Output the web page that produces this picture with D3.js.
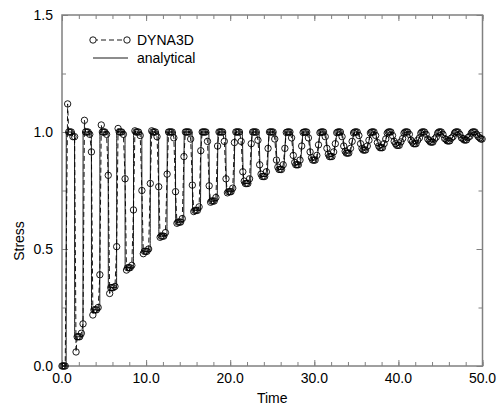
<!DOCTYPE html>
<html>
<head>
<meta charset="utf-8">
<script src="https://cdn.jsdelivr.net/npm/d3@7"></script>
<style>
  body { margin: 0; background: #fff; }
  text { font-family: "Liberation Sans", Arial, sans-serif; }
</style>
</head>
<body>
<svg id="chart" width="501" height="410"></svg>
<script>
// rise time of each loading cycle (stress goes back up to 1.0)
const cycleRise = [0.5, 2.5, 4.5, 6.5, 8.5, 10.5, 12.5, 14.5, 16.5, 18.5, 20.5, 22.5, 24.5,
  26.5, 28.5, 30.5, 32.5, 34.5, 36.5, 38.5, 40.5, 42.5, 44.5, 46.5, 48.5];
// low stress reached after each drop
const cycleLow = [0.125, 0.24, 0.335, 0.42, 0.49, 0.555, 0.615, 0.665, 0.705, 0.745, 0.78, 0.81,
  0.84, 0.86, 0.88, 0.895, 0.91, 0.923, 0.933, 0.943, 0.95, 0.957, 0.962, 0.966, 0.97];
// width of the rise / drop edges of the analytical curve
const edgeWidth = [0.02, 0.02, 0.02, 0.02, 0.03, 0.04, 0.05, 0.07, 0.09, 0.12, 0.16, 0.2, 0.26,
  0.32, 0.4, 0.48, 0.56, 0.64, 0.72, 0.8, 0.85, 0.9, 0.92, 0.95, 0.95];

// DYNA3D samples per cycle
const dynaStart = [[0.0, 0.0], [0.12, 0.0], [0.25, 0.0], [0.38, 0.0]];
const dynaRiseMid = [0.0, 0.18, 0.39, 0.51, 0.667, 0.78, 0.82, 0.895, 0.92, 0.94, 0.955, 0.95, 0.93,
  0.93, 0.94, 0.945, 0.95, 0.96, 0.965, 0.97, 0.972, 0.975, 0.978, 0.98, 0.982];
const dynaPeak = [1.12, 1.05, 1.03, 1.015, 1.005, 1.005, 1.0, 1.0, 1.0, 1.0, 1.0, 1.0, 1.0,
  0.998, 0.998, 0.997, 0.997, 0.996, 0.996, 0.995, 0.995, 0.995, 0.995, 0.995, 0.995];
const dynaHigh = [1.0, 1.0, 1.0, 1.0, 1.0, 1.0, 1.0, 1.0, 1.0, 1.0, 1.0, 1.0, 1.0,
  1.0, 1.0, 1.0, 1.0, 1.0, 1.0, 1.0, 1.0, 1.0, 1.0, 1.0, 1.0];
const dynaHighEnd = [0.98, 0.99, 0.99, 0.99, 0.985, 0.98, 0.975, 0.97, 0.96, 0.96, 0.96, 0.965, 0.97,
  0.975, 0.975, 0.98, 0.98, 0.985, 0.985, 0.985, 0.99, 0.99, 0.99, 0.99, 0.99];
const dynaDropMid = [0.98, 0.915, 0.815, 0.80, 0.75, 0.766, 0.745, 0.773, 0.77, 0.80, 0.83, 0.86, 0.88,
  0.9, 0.915, 0.93, 0.94, 0.95, 0.955, 0.96, 0.965, 0.97, 0.972, 0.975, 0.98];
const dynaUnder = [0.06, 0.218, 0.31, 0.41, 0.48, 0.55, 0.61, 0.66, 0.70, 0.74, 0.79, 0.82, 0.85,
  0.87, 0.89, 0.905, 0.918, 0.93, 0.94, 0.95, 0.957, 0.963, 0.968, 0.972, 0.975];
const dynaLowEnd = [0.14, 0.25, 0.34, 0.43, 0.5, 0.57, 0.63, 0.68, 0.72, 0.76, 0.8, 0.83, 0.86,
  0.88, 0.9, 0.915, 0.93, 0.94, 0.95, 0.958, 0.965, 0.97, 0.974, 0.977, 0.98];

const xTicks = [0, 10, 20, 30, 40, 50];
const yTicks = [0, 0.5, 1.0, 1.5];

const margin = { top: 15, right: 18.5, bottom: 44, left: 62 };
const width = 501 - margin.left - margin.right;
const height = 410 - margin.top - margin.bottom;

const svg = d3.select("#chart");
const g = svg.append("g").attr("transform", `translate(${margin.left},${margin.top})`);

const x = d3.scaleLinear().domain([0, 50]).range([0, width]);
const y = d3.scaleLinear().domain([0, 1.5]).range([height, 0]);

// analytical curve: build the edges from the cycle table
const analytical = [[0, 0]];
cycleRise.forEach((r, i) => {
  const w = edgeWidth[i];
  const prevLow = i === 0 ? 0 : cycleLow[i - 1];
  analytical.push([r - w / 2, prevLow]);
  analytical.push([r + w / 2, 1.0]);
  analytical.push([r + 1 - w / 2, 1.0]);
  analytical.push([r + 1 + w / 2, cycleLow[i]]);
});
analytical.push([50, cycleLow[cycleLow.length - 1]]);
const analyticalData = analytical.filter((d) => d[0] <= 50);

// DYNA3D samples
const dyna = dynaStart.slice();
cycleRise.forEach((r, i) => {
  if (i > 0) dyna.push([r, dynaRiseMid[i]]);
  dyna.push([r + 0.17, dynaPeak[i]]);
  dyna.push([r + 0.3, dynaHigh[i]]);
  dyna.push([r + 0.45, dynaHigh[i]]);
  dyna.push([r + 0.6, dynaHigh[i]]);
  dyna.push([r + 0.8, dynaHighEnd[i]]);
  dyna.push([r + 1.0, dynaDropMid[i]]);
  dyna.push([r + 1.17, dynaUnder[i]]);
  dyna.push([r + 1.3, cycleLow[i]]);
  dyna.push([r + 1.45, cycleLow[i]]);
  dyna.push([r + 1.6, cycleLow[i]]);
  dyna.push([r + 1.8, dynaLowEnd[i]]);
});
const dynaData = dyna.filter((d) => d[0] <= 50.01);

// frame + ticks
const frame = "#808080";
function tickAxis(axis, minor, transform, major) {
  const ax = g.append("g").attr("transform", transform);
  ax.call(axis.tickValues(minor).tickSize(major ? 6 : 4).tickFormat(""));
  ax.select(".domain").remove();
  ax.selectAll("line").attr("stroke", frame);
  return ax;
}
const xMinor = d3.range(0, 50.01, 2);
const yMinor = d3.range(0, 1.51, 0.25);
// inward ticks on all sides
tickAxis(d3.axisTop(x), xMinor, `translate(0,${height})`, false);
tickAxis(d3.axisBottom(x), xMinor, `translate(0,0)`, false);
tickAxis(d3.axisRight(y), yMinor, `translate(0,0)`, false);
tickAxis(d3.axisLeft(y), yMinor, `translate(${width},0)`, false);
tickAxis(d3.axisTop(x), xTicks, `translate(0,${height})`, true);
tickAxis(d3.axisBottom(x), xTicks, `translate(0,0)`, true);
tickAxis(d3.axisRight(y), yTicks, `translate(0,0)`, true);
tickAxis(d3.axisLeft(y), yTicks, `translate(${width},0)`, true);

g.append("rect")
  .attr("width", width)
  .attr("height", height)
  .attr("fill", "none")
  .attr("stroke", frame)
  .attr("stroke-width", 1.5);

// tick labels
g.append("g")
  .selectAll("text")
  .data(xTicks)
  .join("text")
  .attr("x", (d) => x(d))
  .attr("y", height + 17)
  .attr("text-anchor", "middle")
  .style("font-size", "14px")
  .text((d) => d.toFixed(1));

g.append("g")
  .selectAll("text")
  .data(yTicks)
  .join("text")
  .attr("x", -9)
  .attr("y", (d) => y(d) + 5)
  .attr("text-anchor", "end")
  .style("font-size", "14px")
  .text((d) => d.toFixed(1));

// axis titles
svg.append("text")
  .attr("x", margin.left + width / 2)
  .attr("y", 403)
  .attr("text-anchor", "middle")
  .style("font-size", "14px")
  .text("Time");

svg.append("text")
  .attr("transform", "translate(24,241) rotate(-90)")
  .attr("text-anchor", "middle")
  .style("font-size", "14px")
  .text("Stress");

// series
const line = d3.line().x((d) => x(d[0])).y((d) => y(d[1]));

g.append("path")
  .datum(analyticalData)
  .attr("fill", "none")
  .attr("stroke", "#000")
  .attr("stroke-width", 0.9)
  .attr("d", line.curve(d3.curveMonotoneX));

g.append("path")
  .datum(dynaData)
  .attr("fill", "none")
  .attr("stroke", "#000")
  .attr("stroke-width", 0.9)
  .attr("stroke-dasharray", "5,3")
  .attr("d", d3.line().x((d) => x(d[0])).y((d) => y(d[1]))(dynaData));

g.append("g")
  .selectAll("circle")
  .data(dynaData)
  .join("circle")
  .attr("cx", (d) => x(d[0]))
  .attr("cy", (d) => y(d[1]))
  .attr("r", 3.2)
  .attr("fill", "none")
  .attr("stroke", "#000")
  .attr("stroke-width", 0.9);

// legend
const lg = svg.append("g");
lg.append("line")
  .attr("x1", 93).attr("x2", 127).attr("y1", 40).attr("y2", 40)
  .attr("stroke", "#000").attr("stroke-width", 0.9).attr("stroke-dasharray", "5,3");
[93, 127].forEach((cx) => {
  lg.append("circle").attr("cx", cx).attr("cy", 40).attr("r", 3.2)
    .attr("fill", "#fff").attr("stroke", "#000").attr("stroke-width", 0.9);
});
lg.append("text").attr("x", 137).attr("y", 45).style("font-size", "14px").text("DYNA3D");
lg.append("line")
  .attr("x1", 93).attr("x2", 128).attr("y1", 58).attr("y2", 58)
  .attr("stroke", "#000").attr("stroke-width", 0.9);
lg.append("text").attr("x", 137).attr("y", 63).style("font-size", "14px").text("analytical");
</script>
</body>
</html>
